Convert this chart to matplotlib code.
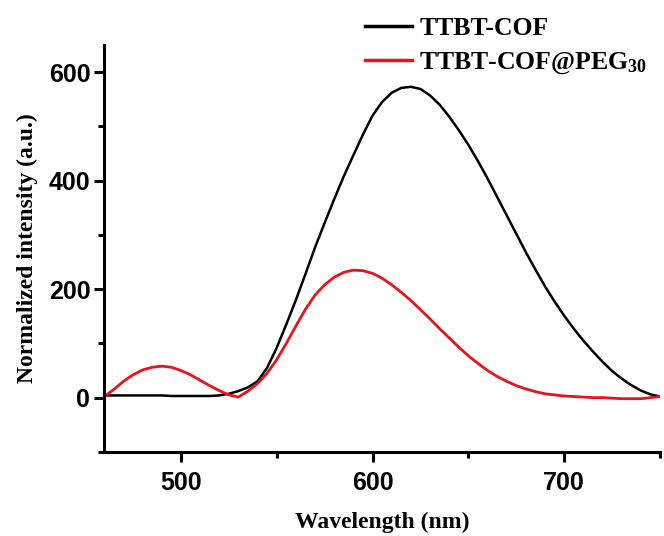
import numpy as np
import matplotlib.pyplot as plt
from matplotlib.ticker import MultipleLocator

plt.rcParams['mathtext.fontset'] = 'custom'
plt.rcParams['mathtext.rm'] = 'Liberation Serif:bold'
plt.rcParams['mathtext.default'] = 'rm'

# wavelength grid (nm), every 5 nm
wavelength = np.arange(460, 751, 5)

# TTBT-COF (black)
cof = [4, 4, 4, 4, 4, 4, 4, 3, 3, 3, 3, 3, 4, 7, 12, 19, 30, 55, 92, 135,
       180, 228, 277, 322, 366, 408, 447, 485, 520, 545, 562, 571, 573, 569,
       557, 540, 518, 493, 466, 436, 404, 370, 336, 302, 268, 236, 205, 177,
       151, 127, 105, 85, 66, 49, 35, 23, 13, 6, 2]

# TTBT-COF@PEG30 (red)
cof_peg = [2, 15, 30, 42, 51, 56, 58, 56, 50, 42, 32, 22, 13, 5, 1, 12, 26,
           45, 70, 100, 132, 163, 189, 208, 222, 231, 235, 234, 229, 220, 208,
           194, 179, 162, 145, 127, 110, 93, 77, 63, 50, 39, 30, 22, 16, 11,
           7, 5, 3, 2, 1, 0, 0, -1, -2, -2, -2, 0, 2]

labels = ['TTBT-COF', 'TTBT-COF@PEG$_{30}$']

fig = plt.figure(figsize=(6.64, 5.36), dpi=100)
ax = fig.add_axes([0.157, 0.157, 0.837, 0.759])

ax.plot(wavelength, cof, color='black', lw=1.8, solid_joinstyle='round',
        label=labels[0])
ax.plot(wavelength, cof_peg, color='#e8141b', lw=2.0, solid_joinstyle='round',
        label=labels[1])

ax.set_xlim(460, 750)
ax.set_ylim(-100, 650)
ax.xaxis.set_major_locator(MultipleLocator(100))
ax.xaxis.set_minor_locator(MultipleLocator(50))
ax.yaxis.set_major_locator(MultipleLocator(200))
ax.yaxis.set_minor_locator(MultipleLocator(100))

for s in ['top', 'right']:
    ax.spines[s].set_visible(False)
for s in ['left', 'bottom']:
    ax.spines[s].set_linewidth(2.2)

ax.tick_params(which='major', direction='out', length=7, width=2.2,
               labelsize=18, pad=3)
ax.tick_params(which='minor', direction='out', length=4.5, width=2.2)
ax.tick_params(axis='x', which='major', pad=7)
for lab in ax.get_xticklabels() + ax.get_yticklabels():
    lab.set_fontfamily('Liberation Sans')
    lab.set_fontweight('bold')

ax.set_xlabel('Wavelength (nm)', fontsize=17, fontweight='bold',
              family='Liberation Serif', labelpad=12)
ax.set_ylabel('Normalized intensity (a.u.)', fontsize=17, fontweight='bold',
              family='Liberation Serif', labelpad=8)

leg = fig.legend(loc='upper right', bbox_to_anchor=(1.0, 1.0), frameon=False,
                 prop={'family': 'Liberation Serif', 'weight': 'bold', 'size': 18.5},
                 handlelength=1.8, handletextpad=0.3, labelspacing=0.42,
                 borderaxespad=0.25)
for line in leg.get_lines():
    line.set_linewidth(2.5)

fig.savefig('out.png', dpi=100)
